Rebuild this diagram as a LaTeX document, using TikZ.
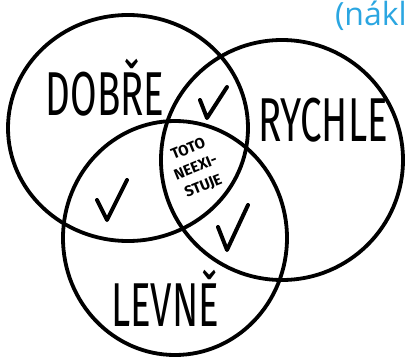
\documentclass[tikz,border=0pt]{standalone}
\usepackage{fontspec}
\setmainfont{Open Sans}
\newfontfamily\hand{Fira Sans}
\usetikzlibrary{positioning}
\definecolor{costblue}{HTML}{2BA6E1}

\begin{document}
\begin{tikzpicture}[x=1pt, y=-1pt,
  ring/.style={draw=black, line width=3.8pt},
  tick/.style={draw=black, line width=4pt, line cap=round, line join=round},
  word/.style={inner sep=0pt, xscale=0.62, font=\hand\fontsize{62}{62}\selectfont}
]
  \useasboundingbox (0,0) rectangle (408,359);

  % the three sets
  \draw[ring] (128,128) ellipse [x radius=120pt, y radius=113pt];
  \draw[ring] (282,160) ellipse [x radius=121pt, y radius=120pt];
  \draw[ring] (175,238) ellipse [x radius=112pt, y radius=117pt];

  \node[word] (good) at (105,88) {DOBŘE};
  \node[word] (fast) at (323,120) {RYCHLE};
  \node[word] (cheap) at (165,298) {LEVNĚ};
  \node[inner sep=0pt, rotate=22, align=center, font=\hand\bfseries\fontsize{15}{20}\selectfont] (none) at (196,168) {TOTO\\NEEXI-\\STUJE};

  % pairs that work
  \draw[tick] (200,100) -- (207,118) -- (227,87);
  \draw[tick] (97,200) -- (107,220) -- (127,180);
  \draw[tick] (218,227) -- (227,250) -- (248,205);

  \node[anchor=north east, inner sep=0pt, text=costblue, font=\fontsize{32}{34}\selectfont] (cost) at (407,1) {(nákl};
\end{tikzpicture}
\end{document}
